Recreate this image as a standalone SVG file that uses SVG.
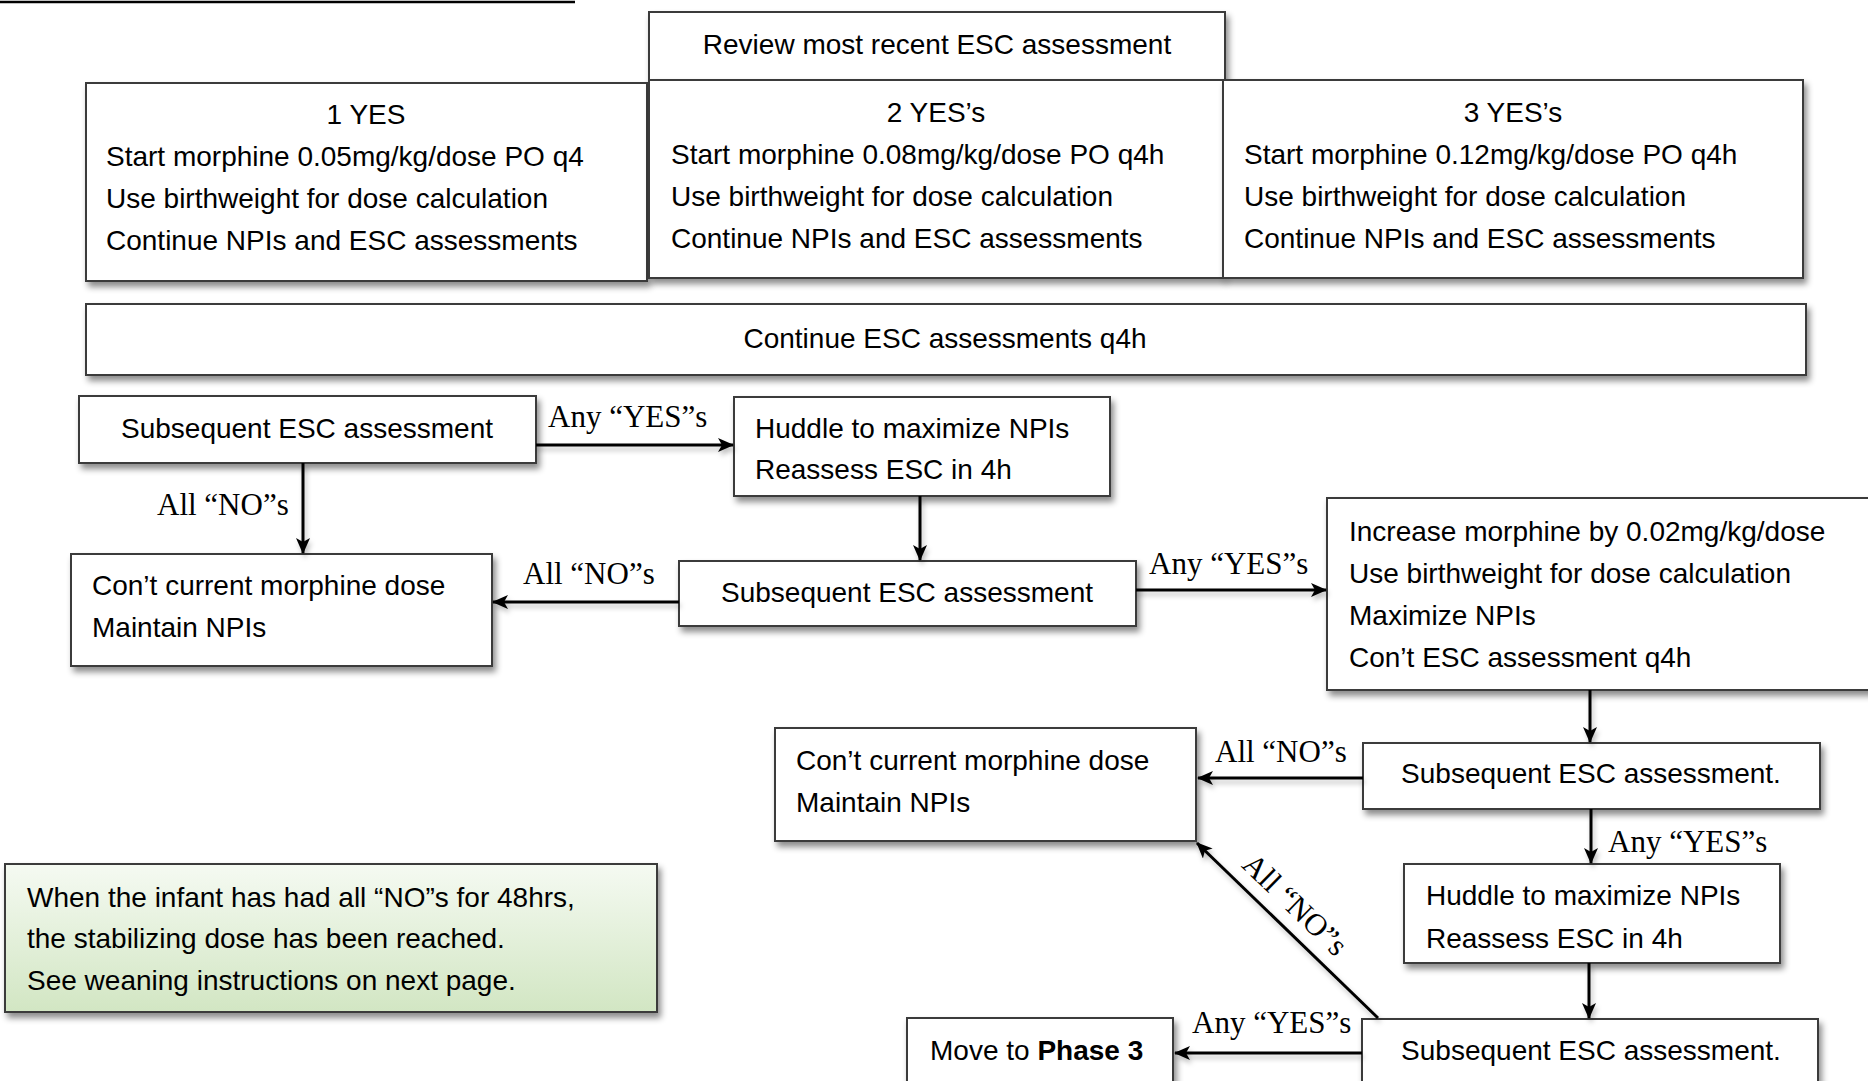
<svg xmlns="http://www.w3.org/2000/svg" width="1868" height="1081" viewBox="0 0 1868 1081">
<defs>
<filter id="sh" x="-10%" y="-10%" width="130%" height="140%">
<feDropShadow dx="3" dy="5" stdDeviation="3" flood-color="#000" flood-opacity="0.45"/>
</filter>
<filter id="lsh" x="-20%" y="-20%" width="140%" height="140%">
<feDropShadow dx="2" dy="4" stdDeviation="2.5" flood-color="#000" flood-opacity="0.25"/>
</filter>
<linearGradient id="green" x1="0" y1="0" x2="0" y2="1">
<stop offset="0" stop-color="#f5faf2"/>
<stop offset="1" stop-color="#d2e6c3"/>
</linearGradient>
<marker id="ah" viewBox="0 0 16 14" refX="15" refY="7" markerWidth="16" markerHeight="14" markerUnits="userSpaceOnUse" orient="auto">
<path d="M0,0 L16,7 L0,14 L4,7 z" fill="#000"/>
</marker>
<style>
.box{fill:#fff;stroke:#3a3a3a;stroke-width:2;filter:url(#sh)}
.t{font-family:"Liberation Sans",Arial,sans-serif;font-size:28px;fill:#000}
.c{text-anchor:middle}
.lb{font-family:"Liberation Serif","Times New Roman",serif;font-size:31px;fill:#000}
.ar{stroke:#000;stroke-width:3;fill:none;marker-end:url(#ah)}
</style>
</defs>
<line x1="0" y1="2" x2="575" y2="2" stroke="#000" stroke-width="2.5"/>

<g id="review">
<rect class="box" x="649" y="12" width="576" height="68"/>
<text class="t c" x="937" y="54">Review most recent ESC assessment</text>
</g>
<g id="yes1">
<rect class="box" x="86" y="83" width="561" height="198"/>
<text class="t c" x="366" y="124">1 YES</text>
<text class="t" x="106" y="166">Start morphine 0.05mg/kg/dose PO q4</text>
<text class="t" x="106" y="208">Use birthweight for dose calculation</text>
<text class="t" x="106" y="250">Continue NPIs and ESC assessments</text>
</g>
<g id="yes2">
<rect class="box" x="649" y="80" width="574" height="198"/>
<text class="t c" x="936" y="122">2 YES’s</text>
<text class="t" x="671" y="164">Start morphine 0.08mg/kg/dose PO q4h</text>
<text class="t" x="671" y="206">Use birthweight for dose calculation</text>
<text class="t" x="671" y="248">Continue NPIs and ESC assessments</text>
</g>
<g id="yes3">
<rect class="box" x="1223" y="80" width="580" height="198"/>
<text class="t c" x="1513" y="122">3 YES’s</text>
<text class="t" x="1244" y="164">Start morphine 0.12mg/kg/dose PO q4h</text>
<text class="t" x="1244" y="206">Use birthweight for dose calculation</text>
<text class="t" x="1244" y="248">Continue NPIs and ESC assessments</text>
</g>
<g id="continue">
<rect class="box" x="86" y="304" width="1720" height="71"/>
<text class="t c" x="945" y="348">Continue ESC assessments q4h</text>
</g>
<g id="sub1">
<rect class="box" x="79" y="396" width="457" height="67"/>
<text class="t c" x="307" y="438">Subsequent ESC assessment</text>
</g>
<g id="huddle1">
<rect class="box" x="734" y="397" width="376" height="99"/>
<text class="t" x="755" y="438">Huddle to maximize NPIs</text>
<text class="t" x="755" y="479">Reassess ESC in 4h</text>
</g>
<g id="cont1">
<rect class="box" x="71" y="554" width="421" height="112"/>
<text class="t" x="92" y="595">Con’t current morphine dose</text>
<text class="t" x="92" y="637">Maintain NPIs</text>
</g>
<g id="sub2">
<rect class="box" x="679" y="561" width="457" height="65"/>
<text class="t c" x="907" y="602">Subsequent ESC assessment</text>
</g>
<g id="increase">
<rect class="box" x="1327" y="498" width="560" height="192"/>
<text class="t" x="1349" y="541">Increase morphine by 0.02mg/kg/dose</text>
<text class="t" x="1349" y="583">Use birthweight for dose calculation</text>
<text class="t" x="1349" y="625">Maximize NPIs</text>
<text class="t" x="1349" y="667">Con’t ESC assessment q4h</text>
</g>
<g id="sub3">
<rect class="box" x="1363" y="743" width="457" height="66"/>
<text class="t c" x="1591" y="783">Subsequent ESC assessment.</text>
</g>
<g id="cont2">
<rect class="box" x="775" y="728" width="421" height="113"/>
<text class="t" x="796" y="770">Con’t current morphine dose</text>
<text class="t" x="796" y="812">Maintain NPIs</text>
</g>
<g id="huddle2">
<rect class="box" x="1404" y="864" width="376" height="99"/>
<text class="t" x="1426" y="905">Huddle to maximize NPIs</text>
<text class="t" x="1426" y="948">Reassess ESC in 4h</text>
</g>
<g id="sub4">
<rect class="box" x="1362" y="1019" width="456" height="80"/>
<text class="t c" x="1591" y="1060">Subsequent ESC assessment.</text>
</g>
<g id="phase3">
<rect class="box" x="907" y="1018" width="266" height="80"/>
<text class="t" x="930" y="1060">Move to <tspan font-weight="bold">Phase 3</tspan></text>
</g>
<g id="note">
<rect x="5" y="864" width="652" height="148" fill="url(#green)" stroke="#3a3a3a" stroke-width="2" filter="url(#sh)"/>
<text class="t" x="27" y="907">When the infant has had all “NO”s for 48hrs,</text>
<text class="t" x="27" y="948">the stabilizing dose has been reached.</text>
<text class="t" x="27" y="990">See weaning instructions on next page.</text>
</g>

<g id="connectors">
<g filter="url(#lsh)">
<line class="ar" x1="536" y1="445" x2="733" y2="445"/>
<line class="ar" x1="303" y1="463" x2="303" y2="553"/>
<line class="ar" x1="920" y1="496" x2="920" y2="560"/>
<line class="ar" x1="679" y1="602" x2="493" y2="602"/>
<line class="ar" x1="1136" y1="590" x2="1326" y2="590"/>
<line class="ar" x1="1590" y1="690" x2="1590" y2="742"/>
<line class="ar" x1="1363" y1="778" x2="1198" y2="778"/>
<line class="ar" x1="1591" y1="809" x2="1591" y2="863"/>
<line class="ar" x1="1589" y1="963" x2="1589" y2="1018"/>
<line class="ar" x1="1378" y1="1018" x2="1197" y2="843"/>
<line class="ar" x1="1362" y1="1053" x2="1175" y2="1053"/>
</g>
<text class="lb" x="548" y="427">Any “YES”s</text>
<text class="lb" x="157" y="515">All “NO”s</text>
<text class="lb" x="523" y="584">All “NO”s</text>
<text class="lb" x="1149" y="574">Any “YES”s</text>
<text class="lb" x="1215" y="762">All “NO”s</text>
<text class="lb" x="1608" y="852">Any “YES”s</text>
<text class="lb" x="1192" y="1033">Any “YES”s</text>
<text class="lb" text-anchor="middle" transform="translate(1288,912) rotate(44)">All “NO”s</text>
</g>
</svg>
